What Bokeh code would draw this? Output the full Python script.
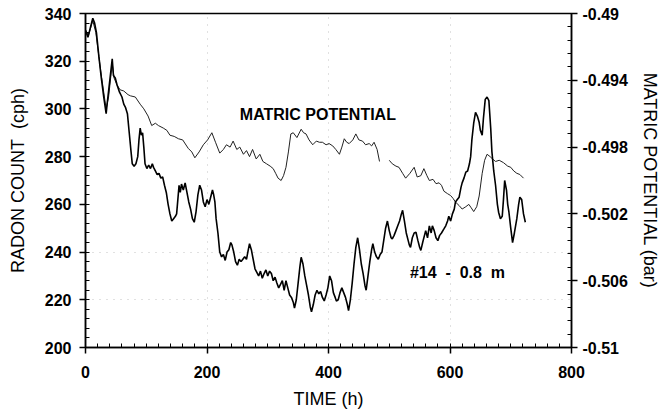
import numpy as np
from bokeh.plotting import figure
from bokeh.models import Range1d, LinearAxis, FixedTicker, Label
from bokeh.embed import file_html
from bokeh.resources import INLINE

# ---------------- data ----------------
# Radon count (cph) at #14, 0.8 m depth
radon_time = [0, 4, 8, 12, 15, 18, 22, 26, 30, 34, 36, 40, 44, 46, 49, 52, 56, 60, 63, 66,
              69, 72, 75, 77, 80, 83, 86, 88, 90, 92, 94, 96, 98, 101, 104, 107, 110, 112, 115, 118,
              121, 124, 127, 130, 133, 136, 139, 142, 145, 148, 150, 152, 154, 156, 158, 161, 164, 167, 170, 173,
              176, 179, 182, 185, 188, 191, 194, 197, 200, 203, 206, 209, 211, 213, 215, 218, 221, 224, 227, 230,
              233, 236, 239, 241, 244, 247, 250, 253, 256, 259, 262, 265, 268, 270, 273, 276, 279, 282, 285, 288,
              291, 294, 297, 300, 303, 306, 309, 312, 315, 318, 321, 324, 327, 330, 333, 336, 339, 342, 344, 347,
              350, 353, 355, 358, 361, 364, 367, 370, 372, 375, 378, 381, 384, 387, 390, 393, 396, 399, 402, 405,
              408, 411, 413, 416, 419, 422, 425, 428, 431, 433, 436, 439, 442, 445, 448, 451, 454, 457, 460, 462,
              465, 468, 471, 473, 476, 479, 482, 485, 488, 491, 494, 497, 500, 503, 505, 508, 511, 514, 517, 520,
              522, 525, 528, 531, 533, 535, 538, 541, 544, 547, 550, 552, 555, 558, 560, 563, 566, 569, 571, 574,
              577, 580, 583, 586, 590, 593, 596, 598, 601, 604, 607, 609, 612, 615, 618, 620, 623, 626, 629, 632,
              634, 636, 639, 642, 645, 648, 650, 653, 655, 658, 661, 664, 667, 669, 672, 675, 678, 680, 683, 686,
              688, 690, 693, 695, 697, 700, 703, 706, 710, 713, 715, 718, 721, 724]
radon_cph = [333, 330, 334, 338, 336, 332, 322, 313, 305, 298, 303, 312, 321, 314, 313, 310, 307, 305, 302, 300.5,
             298, 290, 282, 277, 276, 277, 280, 287, 292, 289, 290, 284, 277, 275, 276.5, 275, 277, 275.5, 274, 272.5,
             273, 271, 271.5, 268, 265, 260, 256, 253, 254, 255, 256, 262, 268, 265, 268.5, 266, 269, 265, 261, 258,
             254, 252.5, 257, 264, 268, 266, 261, 259, 262, 260, 263, 266, 264, 261, 254, 248, 240, 238, 239, 236.5,
             240, 241, 244, 243, 240, 236, 234.5, 237, 236, 237, 238, 237, 241, 243.5, 241, 237, 233, 231.5, 230, 232,
             229, 231, 232.5, 230, 232, 231, 228, 229.5, 227, 225, 226.5, 228, 224, 228, 225, 222, 221, 219, 216.5, 220,
             227, 234, 237.8, 235, 230, 226, 222, 217, 215, 218, 222, 224, 222.5, 223.5, 221, 219.5, 222, 225, 230, 228,
             223, 221, 219.5, 220, 223, 225, 223, 221, 218, 215.5, 220, 227, 235, 242, 246, 241, 235, 231, 226, 224,
             230, 236, 241, 243.5, 240, 238, 237, 239, 240, 245, 250, 253, 249, 246, 245.5, 247, 249, 251, 253, 256,
             257.5, 253, 248, 245, 243, 242, 246, 248, 248.3, 245, 242, 240.7, 244, 247, 249, 246, 251, 248, 251, 249,
             246, 244.8, 247, 248, 249.7, 251, 253, 255, 253, 256, 258, 261, 262, 263, 267, 269, 271, 273.5, 274, 277,
             280, 287, 294, 298.6, 297, 294.4, 291, 289, 296, 304, 305, 303.5, 292, 282, 274, 268, 260, 256.7, 254, 255,
             262, 270, 266, 260, 256.7, 250, 244, 248, 254, 260, 263, 262, 256, 252.5]

# Matric potential (bar); NaN marks the gap in the record
matric_time = [0, 5, 12, 17, 25, 30, 34, 38, 44, 47, 52, 57, 63, 70, 74, 82, 90, 96, 103, 109,
               115, 120, 128, 134, 139, 146, 153, 160, 169, 175, 180, 187, 194, 201, 208, 214, 221, 227, 232, 238,
               243, 249, 254, 260, 265, 270, 275, 281, 287, 292, 298, 304, 309, 313, 317, 322, 326, 330, 334, 338,
               342, 348, 355, 359, 363, 368, 374, 380, 385, 390, 396, 401, 407, 412, 418, 422, 426, 430, 434, 440,
               445, 450, 456, 461, 467, 471, 475, 480, 484, 492, 500, 505, 511, 516, 522, 527, 534, 541, 546, 552,
               557, 562, 566, 572, 577, 582, 586, 590, 596, 601, 605, 609, 615, 620, 626, 631, 635, 639, 644, 648,
               653, 657, 661, 666, 670, 675, 681, 688, 695, 700, 705, 710, 715, 721]
matric_bar = [-0.49100, -0.49129, -0.49043, -0.49114, -0.49343, -0.49471, -0.49571, -0.49500, -0.49300, -0.49386,
              -0.49429, -0.49457, -0.49464, -0.49486, -0.49493, -0.49500, -0.49543, -0.49571, -0.49614, -0.49671,
              -0.49657, -0.49671, -0.49686, -0.49700, -0.49729, -0.49736, -0.49750, -0.49757, -0.49807, -0.49829,
              -0.49864, -0.49829, -0.49786, -0.49757, -0.49714, -0.49771, -0.49836, -0.49814, -0.49786, -0.49800,
              -0.49764, -0.49814, -0.49800, -0.49843, -0.49821, -0.49857, -0.49814, -0.49871, -0.49843, -0.49886,
              -0.49900, -0.49914, -0.49929, -0.49957, -0.49986, -0.50000, -0.49971, -0.49921, -0.49829, -0.49721,
              -0.49714, -0.49743, -0.49693, -0.49714, -0.49721, -0.49757, -0.49786, -0.49764, -0.49771, -0.49771,
              -0.49786, -0.49779, -0.49793, -0.49814, -0.49843, -0.49800, -0.49750, -0.49771, -0.49779, -0.49757,
              -0.49721, -0.49757, -0.49764, -0.49786, -0.49779, -0.49793, -0.49771, -0.49814, -0.49886, float("nan"),
              -0.49879, -0.49900, -0.49914, -0.49921, -0.49957, -0.49986, -0.49957, -0.49921, -0.49979, -0.49971,
              -0.49929, -0.49971, -0.50000, -0.49993, -0.50019, -0.50014, -0.50029, -0.50064, -0.50079, -0.50090,
              -0.50107, -0.50129, -0.50150, -0.50171, -0.50157, -0.50143, -0.50164, -0.50186, -0.50157, -0.50093,
              -0.49957, -0.49879, -0.49843, -0.49857, -0.49871, -0.49886, -0.49879, -0.49893, -0.49914, -0.49921,
              -0.49943, -0.49957, -0.49964, -0.49986]

x_ticks = [0, 200, 400, 600, 800]
left_ticks = [200, 220, 240, 260, 280, 300, 320, 340]
right_ticks = [-0.51, -0.506, -0.502, -0.498, -0.494, -0.49]
right_tick_labels = ["-0.51", "-0.506", "-0.502", "-0.498", "-0.494", "-0.49"]

NB = "\u00a0"

# ---------------- figure ----------------
FONT = "Liberation Sans"

p = figure(width=662, height=418, output_backend="svg", toolbar_location=None,
           x_range=Range1d(0, 800), y_range=Range1d(200, 340),
           min_border_left=85, min_border_right=89, min_border_top=13, min_border_bottom=71,
           background_fill_color="white", border_fill_color="white")
p.extra_y_ranges = {"mp": Range1d(-0.51, -0.49)}

p.outline_line_color = "black"
p.outline_line_width = 1.5

# faint dotted grid remnants
p.xgrid.ticker = FixedTicker(ticks=[200, 400, 600])
p.ygrid.ticker = FixedTicker(ticks=[220, 240])
for g in (p.xgrid, p.ygrid):
    g.grid_line_color = "#aaaaaa"
    g.grid_line_dash = "1 6"
    g.grid_line_alpha = 0.7

def style_axis(ax):
    ax.axis_line_color = "black"
    ax.axis_line_width = 1.5
    ax.major_tick_line_color = "black"
    ax.major_tick_line_width = 1.5
    ax.minor_tick_line_color = "black"
    ax.major_tick_out = 6
    ax.major_tick_in = 0
    ax.minor_tick_out = 0
    ax.minor_tick_in = 4
    ax.major_label_text_font = FONT
    ax.major_label_text_font_size = "16px"
    ax.major_label_text_font_style = "bold"
    ax.major_label_text_color = "black"
    ax.axis_label_text_font = FONT
    ax.axis_label_text_font_size = "18px"
    ax.axis_label_text_font_style = "normal"
    ax.axis_label_text_color = "black"

p.xaxis.ticker = FixedTicker(ticks=x_ticks, minor_ticks=list(range(0, 801, 20)))
p.xaxis.axis_label = "TIME (h)"
p.yaxis.ticker = FixedTicker(ticks=left_ticks, minor_ticks=list(range(200, 341, 4)))
p.yaxis.axis_label = "RADON COUNT" + NB + NB + "(cph)"
style_axis(p.xaxis[0])
style_axis(p.yaxis[0])
p.xaxis.major_label_standoff = 12
p.xaxis.axis_label_standoff = 8
p.yaxis.major_label_standoff = 8
p.yaxis.axis_label_standoff = 14

right = LinearAxis(y_range_name="mp",
                   ticker=FixedTicker(ticks=right_ticks,
                                      minor_ticks=list(np.round(np.arange(-0.51, -0.4899, 0.0008), 5))),
                   axis_label="MATRIC POTENTIAL (bar)")
right.major_label_overrides = {t: s for t, s in zip(right_ticks, right_tick_labels)}
style_axis(right)
right.major_label_standoff = 5
right.axis_label_standoff = 9
p.add_layout(right, "right")

# ---------------- data lines ----------------
p.line(matric_time, matric_bar, y_range_name="mp", line_color="#222222", line_width=1.0)
p.line(radon_time, radon_cph, line_color="black", line_width=1.6)

# ---------------- annotations ----------------
p.add_layout(Label(x=254, y=297.5, text="MATRIC POTENTIAL", text_font=FONT, text_font_size="16px",
                   text_font_style="bold", text_baseline="middle", text_align="left", text_color="black"))
p.add_layout(Label(x=534, y=231.5, text="#14" + NB + NB + "-" + NB + NB + "0.8" + NB + NB + "m",
                   text_font=FONT, text_font_size="16px",
                   text_font_style="bold", text_baseline="middle", text_align="left", text_color="black"))

open("out.html", "w").write(file_html(p, INLINE))
